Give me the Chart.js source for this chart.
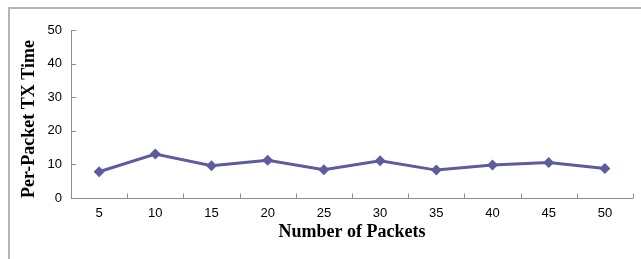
<!DOCTYPE html>
<html>
<head>
<meta charset="utf-8">
<script src="https://cdn.jsdelivr.net/npm/chart.js@4"></script>
<style>
  html, body { margin: 0; padding: 0; background: #fff; }
  #wrap { width: 641px; height: 259px; position: relative; }
</style>
</head>
<body>
<div id="wrap"><canvas id="myChart"></canvas></div>
<script>
// data
var packets = ['5', '10', '15', '20', '25', '30', '35', '40', '45', '50'];
var txTime = [7.8, 13.1, 9.6, 11.2, 8.4, 11.1, 8.3, 9.8, 10.6, 8.8];
var yTicks = [0, 10, 20, 30, 40, 50];

var axisGray = '#8c8c8c';
var lineColor = '#5d5d9d';

// outer frame + inward tick marks, Excel style
var frameAndTicks = {
  id: 'frameAndTicks',
  beforeDraw: function (chart) {
    var c = chart.ctx;
    c.save();
    c.strokeStyle = '#b4b4b4';
    c.lineWidth = 2;
    c.beginPath();
    c.moveTo(641, 8);
    c.lineTo(9, 8);
    c.lineTo(9, 259);
    c.stroke();
    c.restore();
  },
  afterDraw: function (chart) {
    var c = chart.ctx;
    var x = chart.scales.x, y = chart.scales.y;
    var area = chart.chartArea;
    c.save();
    c.strokeStyle = axisGray;
    c.lineWidth = 1;
    c.beginPath();
    // y axis line and ticks
    c.moveTo(area.left + 0.5, y.getPixelForValue(50));
    c.lineTo(area.left + 0.5, y.getPixelForValue(0));
    yTicks.forEach(function (v) {
      var py = Math.round(y.getPixelForValue(v)) + 0.5;
      c.moveTo(area.left, py);
      c.lineTo(area.left + 5, py);
    });
    // x axis line and ticks between categories
    var by = Math.round(y.getPixelForValue(0)) + 0.5;
    c.moveTo(area.left, by);
    c.lineTo(area.right, by);
    var step = x.getPixelForValue(1) - x.getPixelForValue(0);
    for (var i = 0; i <= packets.length; i++) {
      var px = Math.round(x.getPixelForValue(0) - step / 2 + i * step) + 0.5;
      c.moveTo(px, by);
      c.lineTo(px, by - 5);
    }
    c.stroke();
    c.restore();
  }
};

var ctx = document.getElementById('myChart').getContext('2d');
var myChart = new Chart(ctx, {
  type: 'line',
  data: {
    labels: packets,
    datasets: [{
      label: 'Per-Packet TX Time',
      data: txTime,
      borderColor: lineColor,
      backgroundColor: lineColor,
      borderWidth: 3,
      pointStyle: 'rectRot',
      pointRadius: 5.5,
      pointBorderWidth: 0,
      tension: 0
    }]
  },
  options: {
    responsive: true,
    maintainAspectRatio: false,
    animation: false,
    layout: { padding: { top: 30, right: 8, left: 0, bottom: 0 } },
    plugins: {
      legend: { display: false },
      tooltip: { enabled: false }
    },
    scales: {
      x: {
        type: 'category',
        offset: true,
        grid: { display: false, drawTicks: false },
        border: { display: false },
        ticks: {
          color: '#000',
          padding: 8,
          maxRotation: 0,
          font: { family: 'Liberation Sans, Arial', size: 13 }
        },
        title: {
          display: true,
          text: 'Number of Packets',
          color: '#000',
          padding: { top: 16, bottom: 16 },
          font: { family: 'Liberation Serif, Times New Roman', size: 18, weight: 'bold' }
        },
        afterFit: function (s) { s.height = 61; }
      },
      y: {
        min: 0,
        max: 50,
        afterBuildTicks: function (s) {
          s.ticks = yTicks.map(function (v) { return { value: v }; });
        },
        grid: { display: false, drawTicks: false },
        border: { display: false },
        ticks: {
          color: '#000',
          padding: 9,
          font: { family: 'Liberation Sans, Arial', size: 13 }
        },
        title: {
          display: true,
          text: 'Per-Packet TX Time',
          align: 'start',
          color: '#000',
          padding: { top: 19, bottom: 0 },
          font: { family: 'Liberation Serif, Times New Roman', size: 18, weight: 'bold' }
        },
        afterFit: function (s) { s.width = 71; }
      }
    }
  },
  plugins: [frameAndTicks]
});
</script>
</body>
</html>
